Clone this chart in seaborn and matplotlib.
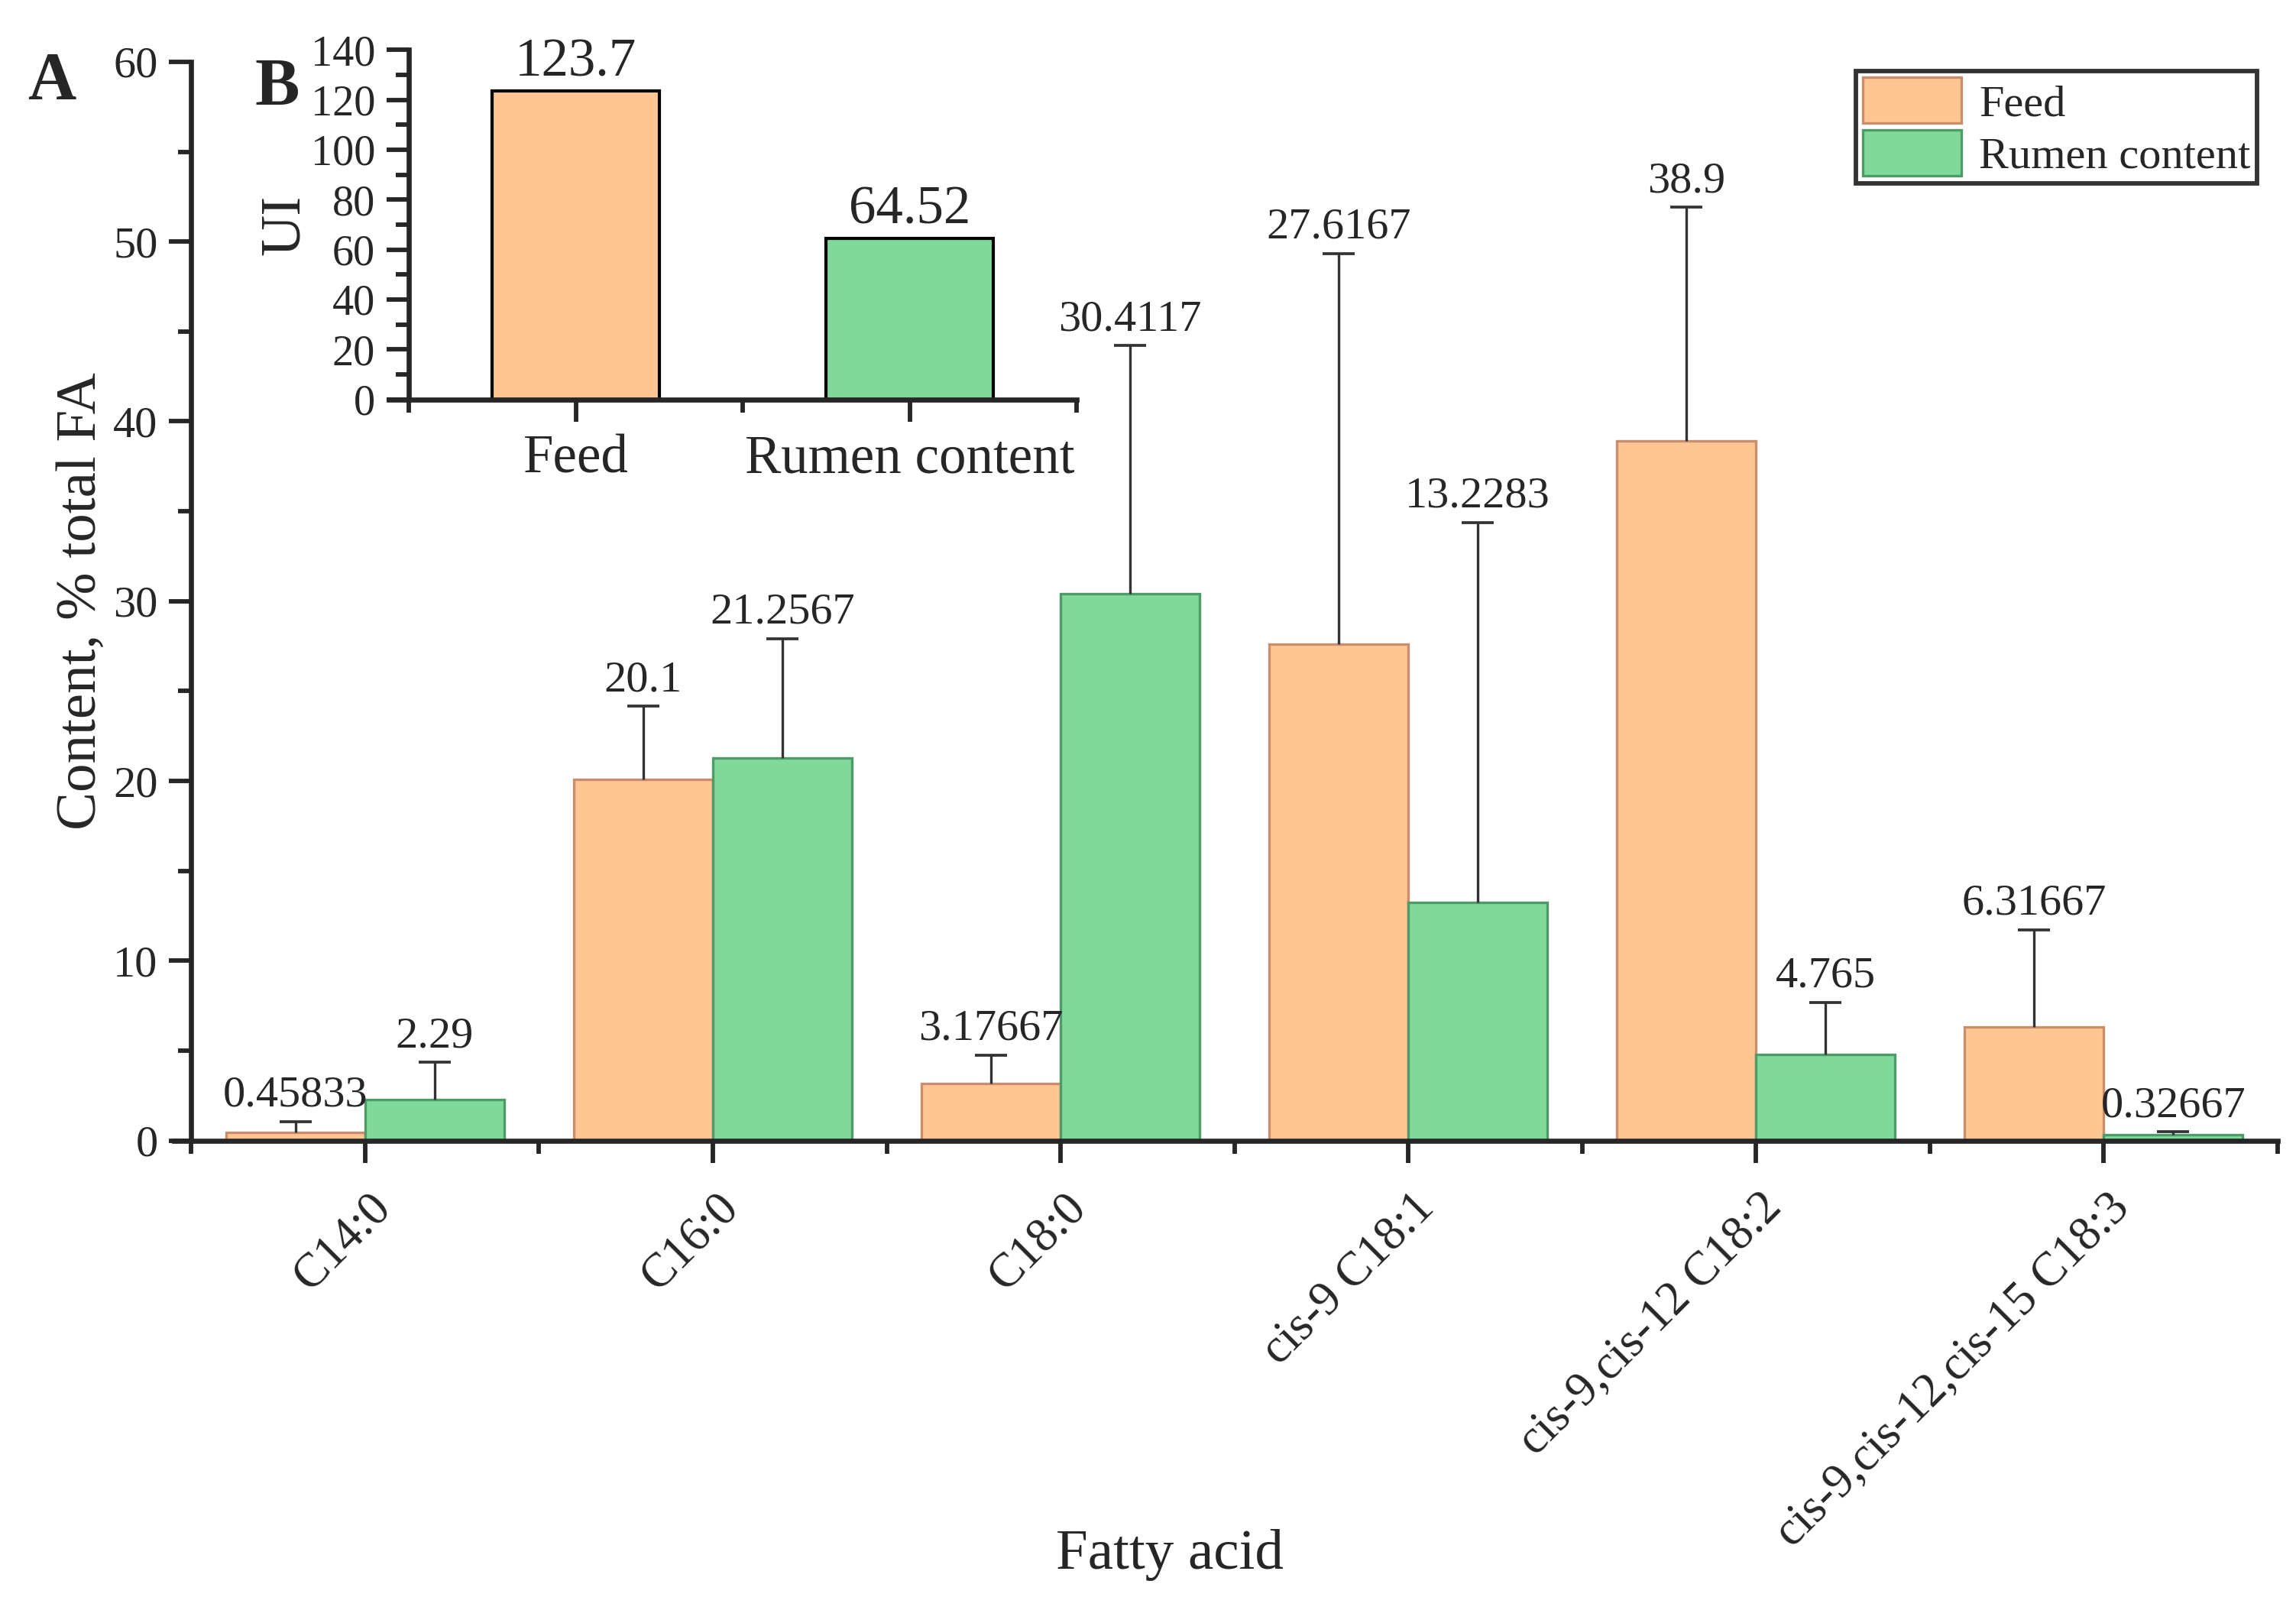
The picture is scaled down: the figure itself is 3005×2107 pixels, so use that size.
import numpy as np
import pandas as pd
import matplotlib
matplotlib.use("Agg")
import matplotlib.pyplot as plt
from matplotlib.ticker import MultipleLocator, FixedLocator
from matplotlib.transforms import ScaledTranslation
import seaborn as sns

# ---- data ----
fatty_acids = ["C14:0", "C16:0", "C18:0", "cis-9 C18:1",
               "cis-9,cis-12 C18:2", "cis-9,cis-12,cis-15 C18:3"]
feed_values = [0.45833, 20.1, 3.17667, 27.6167, 38.9, 6.31667]
rumen_values = [2.29, 21.2567, 30.4117, 13.2283, 4.765, 0.32667]
feed_err = [0.6, 4.05, 1.57, 21.7, 13.0, 5.4]
rumen_err = [2.05, 6.65, 13.8, 21.15, 2.93, 0.15]
feed_labels = ["0.45833", "20.1", "3.17667", "27.6167", "38.9", "6.31667"]
rumen_labels = ["2.29", "21.2567", "30.4117", "13.2283", "4.765", "0.32667"]
groups = ["Feed", "Rumen content"]
ui_values = [123.7, 64.52]
ui_labels = ["123.7", "64.52"]

feed_color = "#FFC593"
rumen_color = "#7FD99A"
feed_edge = "#C98F6A"
rumen_edge = "#4E9A68"

sns.set_theme(style="ticks")
plt.rcParams['font.family'] = ['Liberation Serif', 'DejaVu Serif']
plt.rcParams['axes.linewidth'] = 1.6

df = pd.DataFrame({
    "acid": fatty_acids * 2,
    "value": feed_values + rumen_values,
    "group": [groups[0]] * 6 + [groups[1]] * 6,
})

fig = plt.figure(figsize=(3005 / 300, 2107 / 300), dpi=300)
ax = fig.add_axes([0.0833, 0.2916, 0.9087, 0.6700])

sns.barplot(data=df, x="acid", y="value", hue="group", order=fatty_acids,
            hue_order=groups, palette=[feed_color, rumen_color],
            width=0.8, errorbar=None, ax=ax, legend=True, saturation=1)

errs = {groups[0]: (feed_err, feed_labels, feed_edge),
        groups[1]: (rumen_err, rumen_labels, rumen_edge)}
for cont, g in zip(ax.containers, groups):
    err, labs, ec = errs[g]
    xs, ys = [], []
    for p in cont.patches:
        p.set_edgecolor(ec)
        p.set_linewidth(0.8)
        xs.append(p.get_x() + p.get_width() / 2)
        ys.append(p.get_height())
    eb = ax.errorbar(xs, ys, yerr=[np.zeros(len(err)), err], fmt="none",
                     ecolor="#333333", elinewidth=0.8, capsize=5, capthick=0.9, zorder=3)
    caps = eb[1]
    if len(caps) > 1:
        caps[0].set_visible(False)
    for x, y, e, lab in zip(xs, ys, err, labs):
        ax.annotate(lab, (x, y + e), xytext=(0, 2), textcoords="offset points",
                    ha="center", va="bottom", fontsize=14)

ax.set_ylim(0, 60)
ax.set_xlim(-0.5, 5.5)
ax.yaxis.set_major_locator(MultipleLocator(10))
ax.yaxis.set_minor_locator(MultipleLocator(5))
ax.xaxis.set_minor_locator(FixedLocator(np.arange(-0.5, 6.0, 1.0)))
ax.tick_params(axis="both", which="major", length=7, width=1.4, labelsize=14, direction="out")
ax.tick_params(axis="both", which="minor", length=4, width=1.4, direction="out")
ax.set_xticks(range(len(fatty_acids)))
ax.set_xticklabels(fatty_acids, rotation=45, ha="right", va="center",
                   rotation_mode="anchor", fontsize=15)
ax.tick_params(axis="x", which="major", pad=12)
for lbl in ax.get_xticklabels():
    lbl.set_transform(lbl.get_transform() + ScaledTranslation(6 / 72, 0, fig.dpi_scale_trans))
sns.despine(ax=ax)
ax.spines["bottom"].set_bounds(-0.55, 5.5)
ax.set_ylabel("Content, % total FA", fontsize=18)
ax.set_xlabel("Fatty acid", fontsize=18)
ax.yaxis.set_label_coords(-0.04, 0.5)
ax.xaxis.set_label_coords(0.469, -0.36)

leg = ax.legend(loc="upper right", bbox_to_anchor=(0.983, 0.956),
                bbox_transform=fig.transFigure, fontsize=14, frameon=True,
                fancybox=False, edgecolor="black", handlelength=2.2,
                handleheight=1.2, borderpad=0.15, labelspacing=0.12,
                handletextpad=0.4, borderaxespad=0)
leg.get_frame().set_linewidth(1.4)
for h, ec in zip(leg.legend_handles, [feed_edge, rumen_edge]):
    h.set_edgecolor(ec)
    h.set_linewidth(0.8)

# ---- inset ----
ui_df = pd.DataFrame({"group": groups, "UI": ui_values})
axi = fig.add_axes([0.178, 0.752, 0.291, 0.217])
sns.barplot(data=ui_df, x="group", y="UI", hue="group", order=groups,
            palette=[feed_color, rumen_color], width=0.5, ax=axi,
            legend=False, saturation=1, edgecolor="black", linewidth=1.0)
for cont, lab in zip(axi.containers, ui_labels):
    for p in cont.patches:
        axi.annotate(lab, (p.get_x() + p.get_width() / 2, p.get_height()),
                     xytext=(0, 1), textcoords="offset points",
                     ha="center", va="bottom", fontsize=17)
axi.set_ylim(0, 140)
axi.set_xlim(-0.5, 1.5)
axi.yaxis.set_major_locator(MultipleLocator(20))
axi.yaxis.set_minor_locator(MultipleLocator(10))
axi.xaxis.set_minor_locator(FixedLocator([-0.5, 0.5, 1.5]))
axi.tick_params(axis="both", which="major", length=7, width=1.4, labelsize=13.5, direction="out")
axi.tick_params(axis="x", which="major", labelsize=17, pad=4)
axi.tick_params(axis="both", which="minor", length=4, width=1.4, direction="out")
sns.despine(ax=axi)
axi.spines["bottom"].set_bounds(-0.56, 1.5)
axi.set_xlabel("")
axi.set_ylabel("UI", fontsize=18, labelpad=0)
axi.patch.set_alpha(0)

fig.text(0.012, 0.949, "A", fontsize=21, fontweight="bold", va="center")
fig.text(0.111, 0.945, "B", fontsize=21, fontweight="bold", va="center")

fig.savefig("out.png", dpi=300)
